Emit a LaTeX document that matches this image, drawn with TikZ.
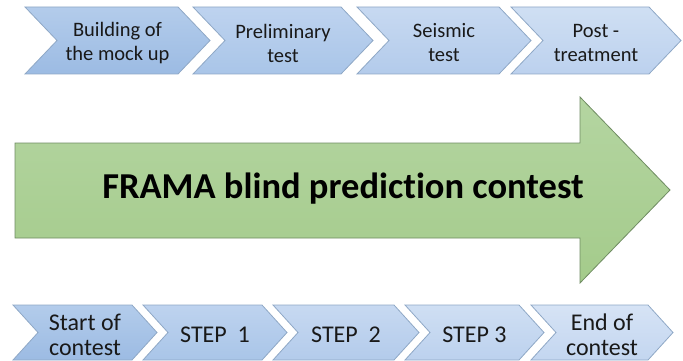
\documentclass[tikz,border=0pt]{standalone}
\usepackage{fontspec}
\setmainfont[RawFeature=-liga]{Carlito}
\definecolor{chevline}{HTML}{8FA8C6}
\definecolor{arrline}{HTML}{6F8C62}
\definecolor{gtop}{HTML}{B4D5A1}
\definecolor{gbot}{HTML}{A4CB8B}
\definecolor{ba1}{HTML}{B3CCEB}\definecolor{bb1}{HTML}{9CBBE3}
\definecolor{ba2}{HTML}{BED3EF}\definecolor{bb2}{HTML}{A9C5E8}
\definecolor{ba3}{HTML}{C7D9F1}\definecolor{bb3}{HTML}{B3CBEB}
\definecolor{ba4}{HTML}{CFDFF3}\definecolor{bb4}{HTML}{BCD1EE}
\definecolor{ba5}{HTML}{D6E3F5}\definecolor{bb5}{HTML}{C3D6F0}
\newcommand\mychev[8]{%
  \path[draw=chevline, line width=0.8pt, top color=#6, bottom color=#7]
    (#1,#3) -- ({#1+#2-#5},#3) -- ({#1+#2},{(#3+#4)/2}) -- ({#1+#2-#5},#4)
    -- (#1,#4) -- ({#1+#5},{(#3+#4)/2}) -- cycle;
  \coordinate (#8) at ({#1+#2/2},{(#3+#4)/2});
}
\tikzset{
  toptext/.style={align=center, inner sep=0pt, text=black!90,
    font=\fontsize{20.5}{24}\selectfont, yshift=-2.5pt},
  bottext/.style={align=center, inner sep=0pt, text=black!90,
    font=\fontsize{24}{25}\selectfont, yshift=-2pt},
  bigtext/.style={inner sep=0pt, text=black,
    font=\fontsize{36.5}{40}\selectfont\bfseries},
}
\begin{document}
\begin{tikzpicture}[x=1pt,y=-1pt]
\useasboundingbox (0,0) rectangle (683,361);
% top row
\mychev{25}{185}{7}{74}{32}{ba1}{bb1}{c1}
\mychev{193}{180}{7}{74}{32}{ba2}{bb2}{c2}
\mychev{357}{174}{7}{74}{32}{ba3}{bb3}{c3}
\mychev{511}{170}{7}{74}{32}{ba4}{bb4}{c4}
\node[toptext] (t1) at (c1) {Building of\\the mock up};
\node[toptext] (t2) at (c2) {Preliminary\\test};
\node[toptext] (t3) at (c3) {Seismic\\test};
\node[toptext] (t4) at (c4) {Post -\\treatment};
% big arrow
\path[draw=arrline, line width=0.8pt, top color=gtop, bottom color=gbot]
  (15,143) -- (580,143) -- (580,97) -- (670,190) -- (580,283) -- (580,238)
  -- (15,238) -- cycle;
\coordinate (ac) at (343,189);
\node[bigtext] (big) at (ac) {FRAMA blind prediction contest};
% bottom row
\mychev{13}{144}{305}{360}{25}{ba1}{bb1}{d1}
\mychev{143}{144}{305}{360}{25}{ba2}{bb2}{d2}
\mychev{273}{146}{305}{360}{25}{ba3}{bb3}{d3}
\mychev{405}{139}{305}{360}{25}{ba4}{bb4}{d4}
\mychev{531}{142}{305}{360}{25}{ba5}{bb5}{d5}
\node[bottext] (s1) at (d1) {Start of\\contest};
\node[bottext] (s2) at (d2) {STEP~~1};
\node[bottext] (s3) at (d3) {STEP~~2};
\node[bottext] (s4) at (d4) {STEP 3};
\node[bottext] (s5) at (d5) {End of\\contest};
\end{tikzpicture}
\end{document}
